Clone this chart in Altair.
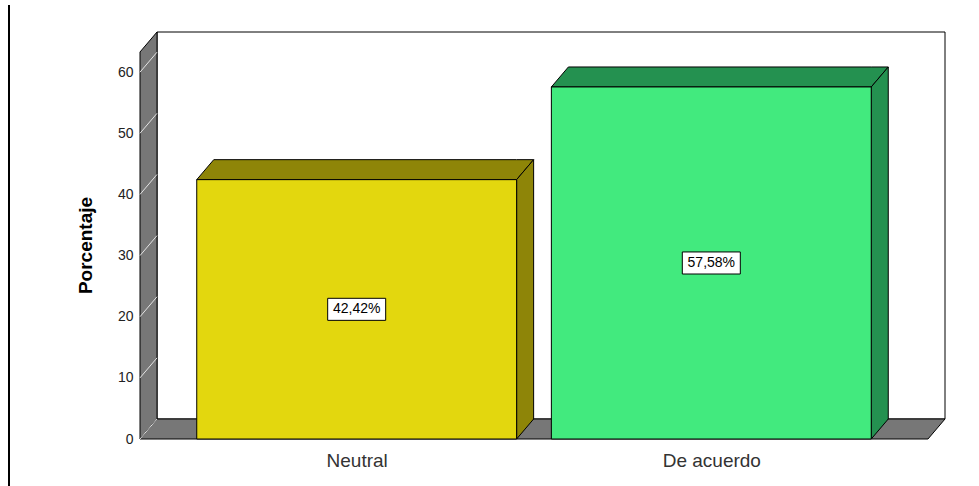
import altair as alt
import pandas as pd

# ---- data ----
categories = ["Neutral", "De acuerdo"]
percentages = [42.42, 57.58]
value_labels = ["42,42%", "57,58%"]
y_ticks = [0, 10, 20, 30, 40, 50, 60]

front_colors = ["#E3D70E", "#42EA7E"]
dark_colors = ["#8E8508", "#249150"]
wall_gray = "#777777"

# ---- 3D geometry (data units) ----
half = 0.451      # half bar width (category units)
dx = 0.048        # depth along x
dy = 3.27         # depth along y (percentage units)
x_lo, x_hi = -0.611, 1.611
y_top = 63.3

xs = alt.Scale(domain=[x_lo, x_hi + dx], nice=False, zero=False)
ys = alt.Scale(domain=[0, y_top + dy], nice=False, zero=False)

# back wall
back = pd.DataFrame({"x": [x_lo + dx], "x2": [x_hi + dx], "y": [dy], "y2": [y_top + dy]})
# left wall & floor polygons as areas
walls = pd.DataFrame([
    {"face": "left", "x": x_lo, "lo": 0, "hi": y_top},
    {"face": "left", "x": x_lo + dx, "lo": dy, "hi": y_top + dy},
    {"face": "floor", "x": x_lo, "lo": 0, "hi": 0},
    {"face": "floor", "x": x_lo + dx, "lo": 0, "hi": dy},
    {"face": "floor", "x": x_hi, "lo": 0, "hi": dy},
    {"face": "floor", "x": x_hi + dx, "lo": dy, "hi": dy},
])
grid = pd.DataFrame({"x": [x_lo] * len(y_ticks), "x2": [x_lo + dx] * len(y_ticks),
                     "y": y_ticks, "y2": [t + dy for t in y_ticks]})

fronts, tops, sides, labs = [], [], [], []
for i, (cat, v) in enumerate(zip(categories, percentages)):
    c = float(i)
    fronts.append({"x": c - half, "x2": c + half, "y": 0, "y2": v, "fill": front_colors[i]})
    for xx, lo, hi in [(c - half, v, v), (c - half + dx, v, v + dy),
                       (c + half, v, v + dy), (c + half + dx, v + dy, v + dy)]:
        tops.append({"id": cat, "x": xx, "lo": lo, "hi": hi, "fill": dark_colors[i]})
    for xx, lo, hi in [(c + half, 0, v), (c + half + dx, dy, v + dy)]:
        sides.append({"id": cat, "x": xx, "lo": lo, "hi": hi, "fill": dark_colors[i]})
    labs.append({"x": c, "y": v / 2, "label": value_labels[i]})

fronts = pd.DataFrame(fronts)
tops = pd.DataFrame(tops)
sides = pd.DataFrame(sides)
labs = pd.DataFrame(labs)

label_expr = "[" + ",".join("'" + c + "'" for c in categories) + "][datum.value]"

back_layer = alt.Chart(back).mark_rect(fill="white", stroke="black", strokeWidth=1).encode(
    x=alt.X("x:Q", scale=xs,
            axis=alt.Axis(values=[0, 1], labelExpr=label_expr, title=None, ticks=False,
                          domain=False, grid=False, labelFontSize=19, labelColor="#333333",
                          labelFont="Liberation Sans", labelPadding=12)),
    x2="x2:Q",
    y=alt.Y("y:Q", scale=ys,
            axis=alt.Axis(values=y_ticks, title="Porcentaje", ticks=False, domain=False,
                          grid=False, labelFontSize=14, labelColor="#222222",
                          labelFont="Liberation Sans", labelPadding=7,
                          titleFont="Liberation Sans", titleFontSize=19,
                          titleFontWeight="bold", titleColor="black", titlePadding=22,
                          titleY=213)),
    y2="y2:Q",
)

wall_layer = alt.Chart(walls).mark_area(fill=wall_gray, stroke="black", strokeWidth=1,
                                        opacity=1).encode(
    x=alt.X("x:Q", scale=xs), y=alt.Y("lo:Q", scale=ys, stack=None), y2="hi:Q",
    detail="face:N",
)

grid_layer = alt.Chart(grid).mark_rule(color="#E4E4E4", strokeWidth=1).encode(
    x=alt.X("x:Q", scale=xs), x2="x2:Q", y=alt.Y("y:Q", scale=ys), y2="y2:Q",
)

top_layer = alt.Chart(tops).mark_area(stroke="black", strokeWidth=1, opacity=1).encode(
    x=alt.X("x:Q", scale=xs), y=alt.Y("lo:Q", scale=ys, stack=None), y2="hi:Q",
    detail="id:N", color=alt.Color("fill:N", scale=None),
)
side_layer = alt.Chart(sides).mark_area(stroke="black", strokeWidth=1, opacity=1).encode(
    x=alt.X("x:Q", scale=xs), y=alt.Y("lo:Q", scale=ys, stack=None), y2="hi:Q",
    detail="id:N", color=alt.Color("fill:N", scale=None),
)
front_layer = alt.Chart(fronts).mark_rect(stroke="black", strokeWidth=1).encode(
    x=alt.X("x:Q", scale=xs), x2="x2:Q", y=alt.Y("y:Q", scale=ys), y2="y2:Q",
    fill=alt.Fill("fill:N", scale=None),
)
box_layer = alt.Chart(labs).mark_point(
    shape="M-1,-0.38H1V0.38H-1Z", size=3364, filled=True, fill="white",
    stroke="black", strokeWidth=1, opacity=1,
).encode(x=alt.X("x:Q", scale=xs), y=alt.Y("y:Q", scale=ys))
text_layer = alt.Chart(labs).mark_text(font="Liberation Sans", fontSize=14, color="black",
                                       align="center", baseline="middle").encode(
    x=alt.X("x:Q", scale=xs), y=alt.Y("y:Q", scale=ys), text="label:N",
)
edge_layer = alt.Chart(pd.DataFrame({"a": [0]})).mark_rule(color="black", strokeWidth=2).encode(
    x=alt.value(-131), y=alt.value(-27), y2=alt.value(454),
)

chart = alt.layer(
    back_layer, wall_layer, grid_layer, top_layer, side_layer, front_layer,
    box_layer, text_layer, edge_layer,
).properties(
    width=805, height=407,
    autosize=alt.AutoSizeParams(type="none"),
    padding={"left": 140, "top": 32, "right": 34, "bottom": 47},
    background="white",
).configure_view(stroke=None)

chart.save("out.html", embed_options={"renderer": "svg", "actions": False})
